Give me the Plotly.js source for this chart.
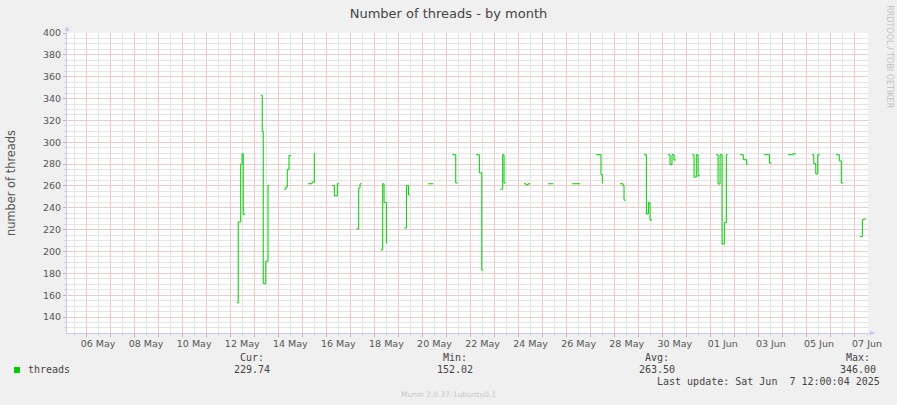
<!DOCTYPE html>
<html>
<head>
<meta charset="utf-8">
<script src="https://cdn.plot.ly/plotly-3.0.1.min.js"></script>
<style>
  html, body { margin: 0; padding: 0; background: #f0f0f0; }
  #chart { width: 897px; height: 405px; }
</style>
</head>
<body>
<div id="chart"></div>
<script>
// ---- data (null = no data / gap) ----
const times = [
  '2025-05-12 06:30','2025-05-12 08:00','2025-05-12 10:30','2025-05-12 11:50','2025-05-12 13:00','2025-05-12 15:00','2025-05-12 20:00',
  '2025-05-13 06:30','2025-05-13 08:00','2025-05-13 09:00','2025-05-13 11:30','2025-05-13 13:45','2025-05-13 15:00','2025-05-13 20:00',
  '2025-05-14 06:00','2025-05-14 07:30','2025-05-14 09:00','2025-05-14 10:45','2025-05-14 12:45','2025-05-14 20:00',
  '2025-05-15 05:45','2025-05-15 09:45','2025-05-15 12:00','2025-05-15 13:00','2025-05-15 20:00',
  '2025-05-16 06:00','2025-05-16 08:00','2025-05-16 11:00','2025-05-16 13:00','2025-05-16 20:00',
  '2025-05-17 06:00','2025-05-17 08:20','2025-05-17 09:40','2025-05-17 11:00','2025-05-17 20:00',
  '2025-05-18 06:20','2025-05-18 08:20','2025-05-18 09:40','2025-05-18 12:00','2025-05-18 13:00','2025-05-18 20:00',
  '2025-05-19 06:00','2025-05-19 08:00','2025-05-19 10:00','2025-05-19 11:20','2025-05-19 20:00',
  '2025-05-20 05:50','2025-05-20 10:50','2025-05-20 20:00',
  '2025-05-21 05:50','2025-05-21 09:15','2025-05-21 11:15','2025-05-21 20:00',
  '2025-05-22 05:30','2025-05-22 08:50','2025-05-22 11:15','2025-05-22 12:50','2025-05-22 20:00',
  '2025-05-23 05:50','2025-05-23 08:10','2025-05-23 09:30','2025-05-23 11:10','2025-05-23 20:00',
  '2025-05-24 05:30','2025-05-24 07:30','2025-05-24 09:30','2025-05-24 11:30','2025-05-24 20:00',
  '2025-05-25 05:25','2025-05-25 10:45','2025-05-25 20:00',
  '2025-05-26 05:25','2025-05-26 13:25','2025-05-26 20:00',
  '2025-05-27 05:20','2025-05-27 10:20','2025-05-27 11:40','2025-05-27 12:40','2025-05-27 20:00',
  '2025-05-28 05:20','2025-05-28 08:20','2025-05-28 09:20','2025-05-28 11:00','2025-05-28 20:00',
  '2025-05-29 05:20','2025-05-29 07:40','2025-05-29 09:40','2025-05-29 11:20','2025-05-29 13:20','2025-05-29 20:00',
  '2025-05-30 05:15','2025-05-30 07:15','2025-05-30 09:15','2025-05-30 11:15','2025-05-30 13:15','2025-05-30 20:00',
  '2025-05-31 05:30','2025-05-31 07:15','2025-05-31 09:30','2025-05-31 11:15','2025-05-31 13:15','2025-05-31 20:00',
  '2025-06-01 05:15','2025-06-01 07:15','2025-06-01 09:15','2025-06-01 11:15','2025-06-01 13:30','2025-06-01 15:30','2025-06-01 16:55','2025-06-01 20:00',
  '2025-06-02 05:10','2025-06-02 08:30','2025-06-02 11:50','2025-06-02 13:10','2025-06-02 20:00',
  '2025-06-03 05:10','2025-06-03 10:30','2025-06-03 12:40','2025-06-03 20:00',
  '2025-06-04 05:10','2025-06-04 10:25','2025-06-04 12:50','2025-06-04 20:00',
  '2025-06-05 05:05','2025-06-05 06:50','2025-06-05 08:50','2025-06-05 10:50','2025-06-05 12:50','2025-06-05 20:00',
  '2025-06-06 05:05','2025-06-06 08:20','2025-06-06 10:20','2025-06-06 12:20','2025-06-06 20:00',
  '2025-06-07 05:00','2025-06-07 07:20','2025-06-07 08:45','2025-06-07 10:45'
];
const threads = [
  153, 227, 280, 289.5, 234, 234, null,
  343, 310, 170.5, 191, 260.5, 260.5, null,
  257, 259, 275, 288, 288, null,
  262, 263.5, 289.5, 289.5, null,
  260.5, 251, 262, 262, null,
  220.6, 258, 262, 262, null,
  201.4, 262, 245, 208, 208, null,
  221.5, 260.5, 251.7, 251.7, null,
  262, 262, null,
  288.6, 262.7, 262.7, null,
  288.6, 272, 183, 183, null,
  257, 288.6, 262.7, 262.7, null,
  262, 261, 262, 262, null,
  262, 262, null,
  262, 262, null,
  288.6, 270.3, 262.7, 262.7, null,
  262, 260.5, 247, 247, null,
  288.6, 234.3, 244.7, 228.8, 228.8, null,
  288.6, 279.5, 288.6, 283.8, 283.8, null,
  288.6, 268, 288.6, 269.3, 269.3, null,
  288.6, 261.8, 288.6, 206.8, 226.4, 288.6, 288.6, null,
  288.6, 284, 280, 280, null,
  288.6, 281, 281, null,
  288.6, 289.5, 289.5, null,
  288.6, 280.4, 271, 288.6, 288.6, null,
  288.6, 283, 262.7, 262.7, null,
  213.6, 229.1, 229.74, 229.74
];
const seriesName = 'threads';
const statLabels = ['Cur:', 'Min:', 'Avg:', 'Max:'];
const statValues = ['229.74', '152.02', '263.50', '346.00'];
const xRange = ['2025-05-05 05:00', '2025-06-07 13:00'];
const yRange = [125.4, 400];

// ---- styling ----
const MAJ = '#efcccc';
const MIN = '#e5e5e5';
const AXIS = '#c8c8f5';
const TXT = '#555555';
const MONO = 'DejaVu Sans Mono, monospace';
const SANS = 'DejaVu Sans, sans-serif';

const traces = [
  {
    x: times, y: threads, type: 'scatter', mode: 'lines',
    line: { color: '#00cc00', width: 1, shape: 'hv' },
    connectgaps: false, showlegend: false, hoverinfo: 'x+y',
    xaxis: 'x', yaxis: 'y'
  },
  {
    x: times, y: threads, type: 'scatter', mode: 'lines',
    line: { color: 'rgba(0,0,0,0)', width: 0 },
    showlegend: false, hoverinfo: 'skip',
    xaxis: 'x2', yaxis: 'y'
  }
];

const statX = [0.231, 0.4838, 0.7366, 0.9881];
const annotations = [];
statLabels.forEach((lab, i) => {
  annotations.push({ xref: 'paper', yref: 'paper', x: statX[i], y: -0.0833, text: lab,
    showarrow: false, xanchor: 'center', yanchor: 'middle', font: { family: MONO, size: 10, color: '#444' } });
  annotations.push({ xref: 'paper', yref: 'paper', x: statX[i], y: -0.1223, text: statValues[i],
    showarrow: false, xanchor: 'center', yanchor: 'middle', font: { family: MONO, size: 10, color: '#444' } });
});
annotations.push({ xref: 'paper', yref: 'paper', x: -0.0512, y: -0.1223, text: seriesName,
  showarrow: false, xanchor: 'left', yanchor: 'middle', font: { family: MONO, size: 10, color: '#444' } });
annotations.push({ xref: 'paper', yref: 'paper', x: 1.0179, y: -0.161, text: 'Last update: Sat Jun\u00a0 7 12:00:04 2025',
  showarrow: false, xanchor: 'right', yanchor: 'middle', font: { family: MONO, size: 10, color: '#444' } });
annotations.push({ xref: 'paper', yref: 'paper', x: 0.4763, y: -0.2043, text: 'Munin 2.0.37-1ubuntu0.1',
  showarrow: false, xanchor: 'center', yanchor: 'middle', font: { family: SANS, size: 7.5, color: '#c8c8c8' } });
annotations.push({ xref: 'paper', yref: 'paper', x: 1.026, y: 0.92, text: 'RRDTOOL / TOBI OETIKER', textangle: 90,
  showarrow: false, xanchor: 'center', yanchor: 'middle', font: { family: SANS, size: 8, color: '#c0c0c0' } });
// axis arrows
annotations.push({ xref: 'paper', yref: 'paper', x: 0, y: 1, yshift: 7, ax: 0, ay: 8, text: '',
  showarrow: true, arrowhead: 2, arrowsize: 1, arrowwidth: 1, arrowcolor: AXIS });
annotations.push({ xref: 'paper', yref: 'paper', x: 1, y: 0, xshift: 7, ax: -8, ay: 0, text: '',
  showarrow: true, arrowhead: 2, arrowsize: 1, arrowwidth: 1, arrowcolor: AXIS });

const layout = {
  width: 897, height: 405,
  paper_bgcolor: '#f0f0f0', plot_bgcolor: '#ffffff',
  margin: { l: 67, r: 29, t: 33, b: 72, pad: 0 },
  title: { text: 'Number of threads - by month', font: { family: SANS, size: 13, color: '#444' },
    xref: 'container', x: 0.5, xanchor: 'center', yref: 'container', y: 0.968, yanchor: 'middle' },
  showlegend: false,
  xaxis: {
    type: 'date', range: xRange, tick0: '2025-05-06', dtick: 86400000,
    showticklabels: false, ticks: 'outside', ticklen: 3, tickcolor: '#dfa0a0',
    showgrid: true, gridcolor: MAJ, gridwidth: 1,
    showline: true, linecolor: AXIS, linewidth: 1, zeroline: false,
    minor: { tick0: '2025-05-06 12:00', dtick: 86400000, showgrid: true, gridcolor: MIN,
      ticks: 'outside', ticklen: 2, tickcolor: '#d4d4d4' },
    fixedrange: true
  },
  xaxis2: {
    type: 'date', range: xRange, overlaying: 'x', anchor: 'y', side: 'bottom',
    tick0: '2025-05-06 12:00', dtick: 172800000, tickformat: '%d %b',
    showgrid: false, showline: false, zeroline: false, ticks: '', ticklabelstandoff: 3,
    tickfont: { family: SANS, size: 9.5, color: TXT }, fixedrange: true
  },
  yaxis: {
    range: yRange, tick0: 0, dtick: 20,
    ticks: 'outside', ticklen: 3, tickcolor: '#dfa0a0',
    showgrid: true, gridcolor: MAJ,
    showline: true, linecolor: AXIS, linewidth: 1, zeroline: false,
    minor: { dtick: 5, showgrid: true, gridcolor: MIN, ticks: 'outside', ticklen: 2, tickcolor: '#d4d4d4' },
    tickfont: { family: SANS, size: 9.5, color: TXT },
    title: { text: 'number of threads', font: { family: SANS, size: 11.4, color: TXT }, standoff: 24 },
    fixedrange: true
  },
  shapes: [
    { type: 'rect', xref: 'paper', yref: 'paper', x0: -0.0662, x1: -0.0587, y0: -0.1333, y1: -0.1133,
      fillcolor: '#00cc00', line: { width: 0 } }
  ],
  annotations: annotations
};

Plotly.newPlot('chart', traces, layout, { displayModeBar: false, staticPlot: true });
</script>
</body>
</html>
